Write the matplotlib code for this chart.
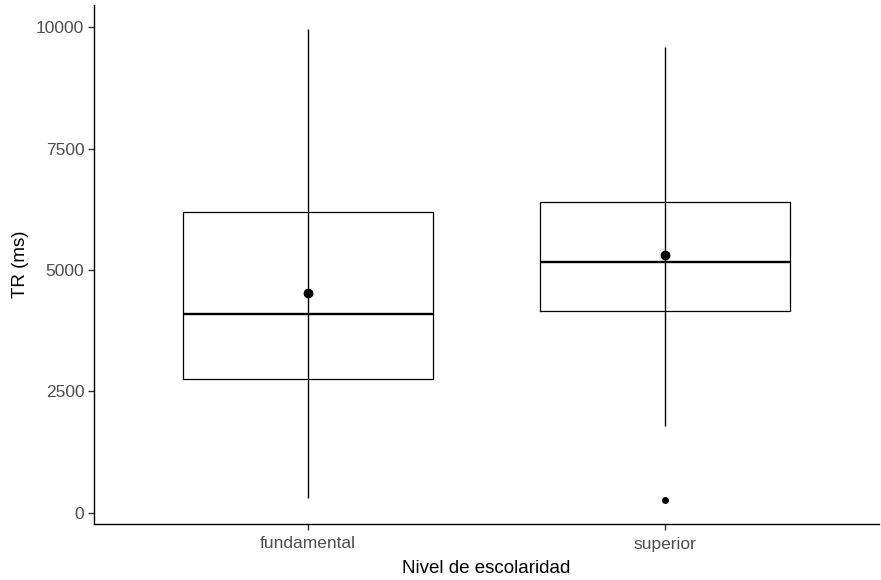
import matplotlib
matplotlib.use('Agg')
import matplotlib.pyplot as plt

#values (ms)
categories = ['fundamental', 'superior']
q1 = [2763, 4165]
median = [4097, 5175]
q3 = [6186, 6406]
whisk_lo = [309, 1779]
whisk_hi = [9959, 9588]
means = [4522, 5320]
outliers = [[], [262]]

plt.rcParams['font.family'] = ['Liberation Sans', 'DejaVu Sans']

fig = plt.figure(figsize=(8.81, 5.80), dpi=100)
ax = fig.add_axes([94/881, 56/580, (879-94)/881, (524-5)/580])

positions = [1, 2]
stats = []
for i, name in enumerate(categories):
    stats.append(dict(label=name, q1=q1[i], med=median[i], q3=q3[i],
                      whislo=whisk_lo[i], whishi=whisk_hi[i], fliers=outliers[i]))

ax.bxp(stats, positions=positions, widths=0.7, showcaps=False,
       boxprops=dict(color='black', linewidth=0.9),
       medianprops=dict(color='black', linewidth=1.7),
       whiskerprops=dict(linewidth=0),
       flierprops=dict(marker='o', markersize=4, markerfacecolor='black',
                       markeredgecolor='black'))

#full range line through the box
ax.vlines(positions, whisk_lo, whisk_hi, color='black', linewidth=1.0, zorder=3)
#mean points
ax.plot(positions, means, 'o', color='black', markersize=6, zorder=4)

ax.set_xlim(0.4, 2.6)
ax.set_ylim(-229, 10458)
ax.set_xticks(positions)
ax.set_xticklabels(categories)
ax.set_yticks([0, 2500, 5000, 7500, 10000])
ax.set_yticklabels(['0', '2500', '5000', '7500', '10000'])

for side in ['top', 'right']:
    ax.spines[side].set_visible(False)
for side in ['left', 'bottom']:
    ax.spines[side].set_linewidth(1.0)
ax.tick_params(axis='both', labelsize=12.5, labelcolor='#4D4D4D', color='#333333',
               length=4, width=1.0)
ax.tick_params(axis='x', pad=5)
ax.tick_params(axis='y', pad=3)

ax.set_xlabel('Nivel de escolaridad', fontsize=13.5, labelpad=6)
ax.set_ylabel('TR (ms)', fontsize=13.5, labelpad=5)

fig.savefig('out.png', dpi=100)
